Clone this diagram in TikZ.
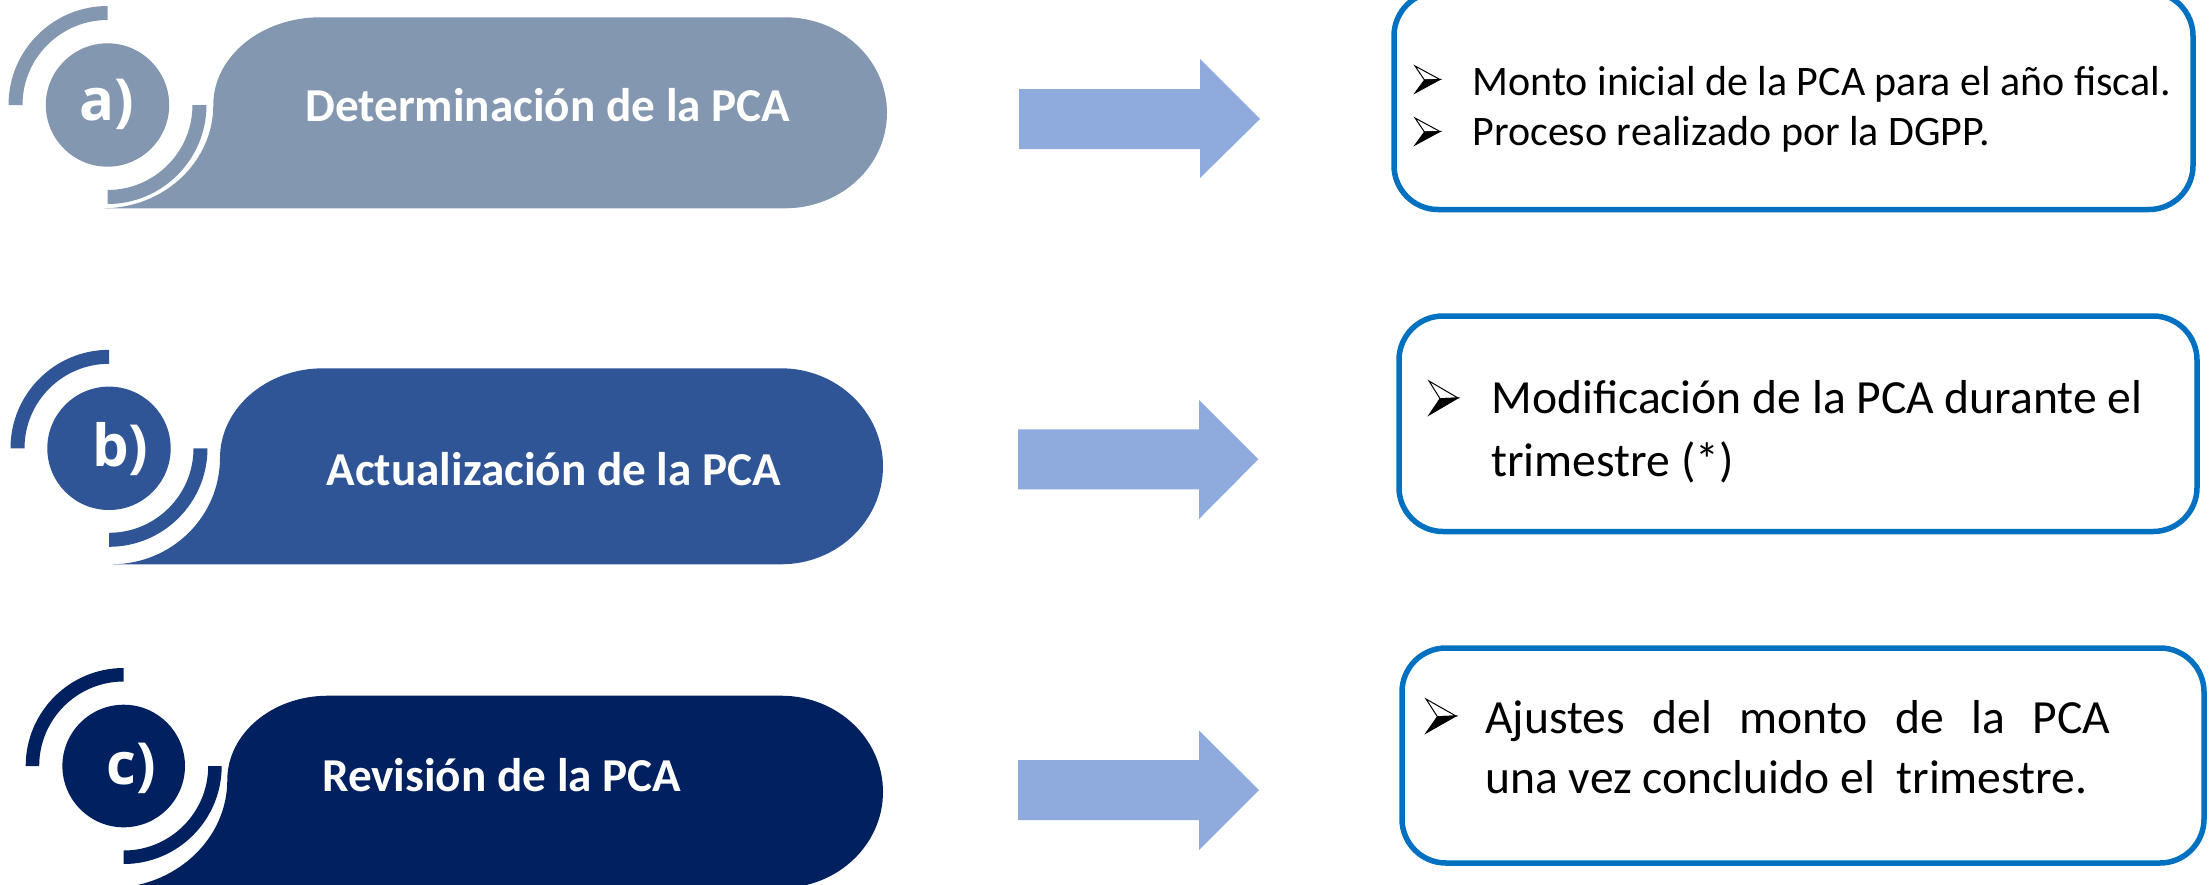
\documentclass[tikz,border=0pt]{standalone}
\usepackage{fontspec}
\setmainfont{Carlito}
\newfontfamily\lblfont{Open Sans}
\definecolor{cA}{HTML}{8497B0}
\definecolor{cB}{HTML}{2F5597}
\definecolor{cC}{HTML}{002060}
\definecolor{arrcol}{HTML}{8FAADC}
\definecolor{bord}{HTML}{0070C0}
\tikzset{
  pics/arrowbullet/.style args={#1/#2}{code={
    \filldraw[fill=white,draw=black,line width=0.5pt,line join=miter] ({-0.5*#1},{-0.5*#2}) -- ({0.5*#1},0) -- ({-0.12*#1},{0.02*#2}) -- cycle;
    \filldraw[fill=black,draw=black,line width=0.5pt,line join=miter] ({-0.12*#1},{0.02*#2}) -- ({0.5*#1},0) -- ({-0.5*#1},{0.5*#2}) -- cycle;
  }}
}
\begin{document}
\begin{tikzpicture}[x=0.5pt,y=-0.5pt,
  lbl/.style={anchor=base west,inner sep=0pt,text=white,font=\lblfont\bfseries\fontsize{29pt}{30pt}\selectfont},
  ptxt/.style={anchor=base west,inner sep=0pt,text=white,font=\bfseries\fontsize{23.6pt}{27pt}\selectfont},
  infobox/.style={draw=bord,line width=2.75pt,rounded corners=22pt},
  btxt/.style={anchor=base west,inner sep=0pt,font=\fontsize{#1}{#1}\selectfont},
  blockarrow/.style={fill=arrcol}]
\useasboundingbox (0,0) rectangle (2211,884);
\clip (0,0) rectangle (2211,884);

% ---------- row a ----------
\fill[cA] (103,208.3) -- (785,208.3) arc[start angle=90,end angle=-90,x radius=102,y radius=95.5]
  -- (320.3,17.3) arc[start angle=270,end angle=180,x radius=107,y radius=87.7]
  arc[start angle=0,end angle=90,x radius=110.3,y radius=103.3] -- cycle;
\fill[cA] (107.5,105) circle[radius=61.7];
\fill[cA] (8.5,105) arc[start angle=180,end angle=270,radius=99] -- (107.5,20) arc[start angle=270,end angle=180,radius=85] -- cycle;
\fill[cA] (206.5,105) arc[start angle=0,end angle=90,radius=99] -- (107.5,190) arc[start angle=90,end angle=0,radius=85] -- cycle;
\node[lbl] (la) at (79,120) {a)};
\node[ptxt] (pa) at (305,121.7) {Determinación de la PCA};

% ---------- row b ----------
\fill[cB] (111.7,564.3) -- (781,564.3) arc[start angle=90,end angle=-90,x radius=102,y radius=98]
  -- (323,368.3) arc[start angle=270,end angle=180,x radius=103,y radius=89.7]
  arc[start angle=0,end angle=90,x radius=108.3,y radius=106.3] -- cycle;
\fill[cB] (109,448.3) circle[radius=61.7];
\fill[cB] (10.5,448.3) arc[start angle=180,end angle=270,radius=98.5] -- (109,363.8) arc[start angle=270,end angle=180,radius=84.5] -- cycle;
\fill[cB] (207.5,448.3) arc[start angle=0,end angle=90,radius=98.5] -- (109,532.8) arc[start angle=90,end angle=0,radius=84.5] -- cycle;
\node[lbl] (lb) at (91.7,466.7) {b)};
\node[ptxt] (pb) at (326,485) {Actualización de la PCA};

% ---------- row c ----------
\fill[cC] (110,888) -- (781,888) arc[start angle=90,end angle=-90,x radius=102,y radius=96.15]
  -- (328,695.7) arc[start angle=270,end angle=180,x radius=100.7,y radius=84.3]
  arc[start angle=0,end angle=90,x radius=117.3,y radius=108] -- cycle;
\fill[cC] (123.7,766) circle[radius=61.3];
\fill[cC] (25.7,766) arc[start angle=180,end angle=270,radius=98] -- (123.7,681.5) arc[start angle=270,end angle=180,radius=84.5] -- cycle;
\fill[cC] (221.7,766) arc[start angle=0,end angle=90,radius=98] -- (123.7,850.5) arc[start angle=90,end angle=0,radius=84.5] -- cycle;
\node[lbl] (lc) at (106,784) {c)};
\node[ptxt] (pc) at (321.7,791.7) {Revisión de la PCA};

% ---------- block arrows ----------
\fill[blockarrow] (1019,89) -- (1200,89) -- (1200,59) -- (1260,119) -- (1200,178) -- (1200,149) -- (1019,149) -- cycle;
\fill[blockarrow] (1018,429.3) -- (1199,429.3) -- (1199,400) -- (1258.3,459.3) -- (1199,519) -- (1199,489.3) -- (1018,489.3) -- cycle;
\fill[blockarrow] (1018,760) -- (1199,760) -- (1199,730.5) -- (1259,790) -- (1199,850) -- (1199,820) -- (1018,820) -- cycle;

% ---------- boxes ----------
\draw[infobox] (1394,-8) rectangle (2193,209.5);
\pic at (1427.5,79.5) {arrowbullet=25/27};
\node[btxt=21pt] (ta1) at (1472,95) {Monto inicial de la PCA para el año fiscal.};
\pic at (1427.5,131.5) {arrowbullet=25/27};
\node[btxt=21pt] (ta2) at (1472,145.8) {Proceso realizado por la DGPP.};

\draw[infobox] (1399,316) rectangle (2197,531.5);
\pic at (1443.5,398) {arrowbullet=29/34};
\node[btxt=23.8pt] (tb1) at (1491,413.5) {Modificación de la PCA durante el};
\node[btxt=23.8pt] (tb2) at (1491,476) {trimestre (*)};

\draw[infobox] (1402,648) rectangle (2204,863);
\pic at (1441,716) {arrowbullet=30/34};
\node[btxt=23.8pt] (tc1) at (1485,733) {\makebox[312.5pt][s]{Ajustes del monto de la PCA}};
\node[btxt=23.8pt] (tc2) at (1485,793) {una vez concluido el\ \ trimestre.};
\end{tikzpicture}
\end{document}
